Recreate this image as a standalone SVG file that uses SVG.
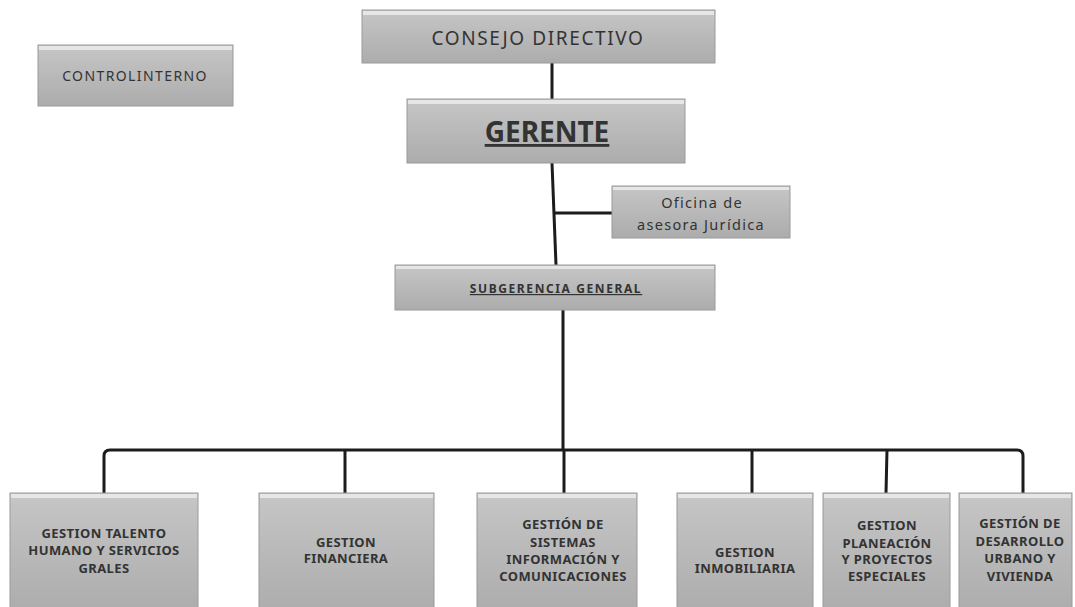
<svg xmlns="http://www.w3.org/2000/svg" width="1075" height="607" viewBox="0 0 1075 607">
<defs>
<linearGradient id="g" x1="0" y1="0" x2="0" y2="1">
<stop offset="0" stop-color="#c6c6c6"/>
<stop offset="1" stop-color="#acacac"/>
</linearGradient>
<style>
.box{fill:url(#g);stroke:#9a9a9a;stroke-width:1}
.hl{fill:#e6e6e6}
.t{font-family:"Noto Sans","Open Sans",sans-serif;fill:#333333;text-anchor:middle}
.b{font-weight:bold;font-size:13px;letter-spacing:0.4px}
.c{fill:none;stroke:#1c1c1c;stroke-width:3;stroke-linejoin:round}
</style>
</defs>
<rect width="1075" height="607" fill="#ffffff"/>
<g id="connectors">
<path class="c" d="M552 63 V99"/>
<path class="c" d="M552 163 L556 265"/>
<path class="c" d="M554 213 H612"/>
<path class="c" d="M563 310 V450"/>
<path class="c" d="M104 493 V456 Q104 450 110 450 H1017 Q1023 450 1023 456 V493"/>
<path class="c" d="M345 450 V493"/>
<path class="c" d="M564 450 V493"/>
<path class="c" d="M752 450 V493"/>
<path class="c" d="M887 450 L886 493"/>
</g>
<g id="control-interno">
<rect class="box" x="38" y="45" width="195" height="61"/>
<rect class="hl" x="39" y="46" width="193" height="4"/>
<text class="t" x="135" y="81" font-size="14" letter-spacing="1.4">CONTROLINTERNO</text>
</g>
<g id="consejo-directivo">
<rect class="box" x="362" y="10" width="353" height="53"/>
<rect class="hl" x="363" y="11" width="351" height="4"/>
<text class="t" x="538" y="45" font-size="19" letter-spacing="1.6">CONSEJO DIRECTIVO</text>
</g>
<g id="gerente">
<rect class="box" x="407" y="99" width="278" height="64"/>
<rect class="hl" x="408" y="100" width="276" height="4"/>
<text class="t" x="547" y="142" font-size="28" font-weight="bold" text-decoration="underline">GERENTE</text>
</g>
<g id="oficina-juridica">
<rect class="box" x="612" y="186" width="178" height="52"/>
<rect class="hl" x="613" y="187" width="176" height="3"/>
<text class="t" x="702" y="208" font-size="14.5" letter-spacing="1.3">Oficina de</text>
<text class="t" x="701" y="230" font-size="14.5" letter-spacing="1.3">asesora Jurídica</text>
</g>
<g id="subgerencia-general">
<rect class="box" x="395" y="265" width="320" height="45"/>
<rect class="hl" x="396" y="266" width="318" height="3"/>
<text class="t" x="556" y="293" font-size="12" font-weight="bold" letter-spacing="1.6" text-decoration="underline">SUBGERENCIA GENERAL</text>
</g>
<g id="gestion-talento">
<rect class="box" x="10" y="493" width="188" height="120"/>
<rect class="hl" x="11" y="494" width="186" height="4"/>
<text class="t b" x="104" y="538">GESTION TALENTO</text>
<text class="t b" x="104" y="555">HUMANO Y SERVICIOS</text>
<text class="t b" x="104" y="573">GRALES</text>
</g>
<g id="gestion-financiera">
<rect class="box" x="259" y="493" width="175" height="120"/>
<rect class="hl" x="260" y="494" width="173" height="4"/>
<text class="t b" x="346" y="547">GESTION</text>
<text class="t b" x="346" y="563">FINANCIERA</text>
</g>
<g id="gestion-sistemas">
<rect class="box" x="477" y="493" width="160" height="120"/>
<rect class="hl" x="478" y="494" width="158" height="4"/>
<text class="t b" x="563" y="529">GESTIÓN DE</text>
<text class="t b" x="563" y="547">SISTEMAS</text>
<text class="t b" x="563" y="564">INFORMACIÓN Y</text>
<text class="t b" x="563" y="581">COMUNICACIONES</text>
</g>
<g id="gestion-inmobiliaria">
<rect class="box" x="677" y="493" width="136" height="120"/>
<rect class="hl" x="678" y="494" width="134" height="4"/>
<text class="t b" x="745" y="557">GESTION</text>
<text class="t b" x="745" y="573">INMOBILIARIA</text>
</g>
<g id="gestion-planeacion">
<rect class="box" x="823" y="493" width="127" height="120"/>
<rect class="hl" x="824" y="494" width="125" height="4"/>
<text class="t b" x="887" y="530">GESTION</text>
<text class="t b" x="887" y="548">PLANEACIÓN</text>
<text class="t b" x="887" y="564">Y PROYECTOS</text>
<text class="t b" x="887" y="581">ESPECIALES</text>
</g>
<g id="gestion-desarrollo">
<rect class="box" x="959" y="493" width="113" height="120"/>
<rect class="hl" x="960" y="494" width="111" height="4"/>
<text class="t b" x="1020" y="528">GESTIÓN DE</text>
<text class="t b" x="1020" y="546">DESARROLLO</text>
<text class="t b" x="1020" y="563">URBANO Y</text>
<text class="t b" x="1020" y="581">VIVIENDA</text>
</g>
</svg>
